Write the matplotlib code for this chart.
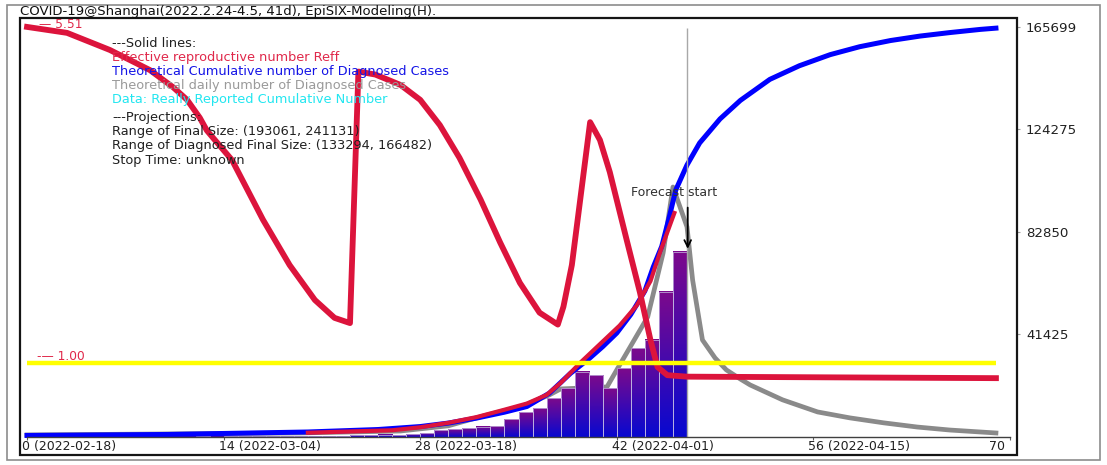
import numpy as np
import matplotlib.pyplot as plt
from matplotlib.colors import LinearSegmentedColormap
from matplotlib.patches import Rectangle
from matplotlib.transforms import offset_copy

W, H = 1107, 465

# ---- data ----
title = "COVID-19@Shanghai(2022.2.24-4.5, 41d), EpiSIX-Modeling(H)."

tick_days = [0, 14, 28, 42, 56, 70]
tick_labels = ["0 (2022-02-18)", "14 (2022-03-04)", "28 (2022-03-18)",
               "42 (2022-04-01)", "56 (2022-04-15)", "70"]
right_ticks = [41425, 82850, 124275, 165699]

# effective reproductive number Reff
reff_days = [0, 2.85, 5.9, 8.75, 10.4, 11.4, 12.3, 12.8, 13.2, 14.6, 16.8, 18.7, 20.5,
             21.9, 23.0,
             23.6, 24.8, 26.6, 28.0, 29.4, 30.8, 32.3, 33.7, 35.1, 36.5, 37.8,
             38.2, 38.8, 40.1, 40.8, 41.5, 42.7, 43.65, 44.4, 44.9, 45.6, 47.0, 69.0]
reff_vals = [5.51, 5.43, 5.20, 4.93, 4.70, 4.53, 4.29, 4.12, 4.03, 3.72, 2.92, 2.31, 1.84,
             1.60, 1.53,
             4.91, 4.87, 4.73, 4.53, 4.19, 3.75, 3.19, 2.61, 2.07, 1.67, 1.51,
             1.75, 2.31, 4.23, 3.99, 3.56, 2.65, 1.94, 1.30, 0.94, 0.83, 0.81, 0.79]

# theoretical cumulative number of diagnosed cases
cum_days = [0, 10, 20, 25, 28, 30, 32, 34, 35.6, 37.2, 38.7, 40, 41, 42, 43, 44, 44.6,
            45.2, 45.7, 46.2, 47, 47.9, 49.35, 50.8, 52.9, 55, 57.2, 59.3,
            61.5, 63.6, 65.7, 67.9, 69]
cum_vals = [600, 1000, 2000, 3000, 4200, 5600, 7600, 10000, 12300, 17700, 25700, 31500,
            36500, 42000, 49500, 59000, 68700, 77000, 88000, 99800, 109900, 118800,
            128500, 136000, 144500, 150000, 154500, 157700, 160200, 162000, 163400,
            164700, 165200]

# fitted curve over the observation window (red)
fit_days = [20, 26, 28, 30, 32, 34, 35.6, 37, 38, 39.4, 40.8, 42.2, 43.4, 44.4, 45.1, 46.1]
fit_vals = [1700, 2700, 3900, 5700, 8000, 11000, 13500, 17000, 21800, 30000, 37500,
            45000, 53000, 63000, 75000, 90500]

# theoretical daily number of diagnosed cases
daily_days = [0, 19.4, 26.6, 30, 32.5, 35.3, 37.2, 38, 39.7, 41.3, 42.0, 42.7, 44.2,
              45.3, 46.0, 47.0, 47.4, 48.1, 49.0, 49.8, 50.8, 51.5, 53.8, 56.3, 58.6,
              61.0, 63.4, 65.7, 69.0]
daily_vals = [800, 1600, 2400, 4500, 8500, 12500, 17000, 19400, 19800, 20200, 27100,
              33900, 48500, 74400, 101000, 84900, 63400, 39200, 31900, 27100, 23400,
              21000, 15000, 10100, 7700, 5700, 4000, 2800, 1600]

# reported daily numbers (bars), days 6..46
bar_days = list(range(6, 47))
bar_vals = [20, 40, 20, 40, 60, 120, 200, 150, 220, 340, 360, 320, 380, 330, 330, 380,
            300, 700, 620, 850, 700, 1150, 1600, 2800, 3100, 3500, 4200, 4400, 7100,
            10100, 11700, 15600, 19700, 26300, 24900, 19700, 27800, 35800, 39200,
            58700, 74900]

forecast_day = 47
reff_top = 5.51
value_top = 165699

legend_lines = [
    ("---Solid lines:", "#202020"),
    ("Effective reproductive number Reff", "#e0284a"),
    ("Theoretical Cumulative number of Diagnosed Cases", "#1414e6"),
    ("Theoretical daily number of Diagnosed Cases", "#9a9a9a"),
    ("Data: Really Reported Cumulative Number", "#22e6f0"),
]
proj_lines = [
    "---Projections:",
    "Range of Final Size: (193061, 241131)",
    "Range of Diagnosed Final Size: (133294, 166482)",
    "Stop Time: unknown",
]

# ---- figure ----
plt.rcParams['font.family'] = 'DejaVu Sans'
fig = plt.figure(figsize=(W / 100, H / 100), dpi=100)


def fx(x):
    return x / W


def fy(y):
    return 1 - y / H


ax = fig.add_axes([fx(20), fy(455), (1017 - 20) / W, (455 - 18) / H])
ax.set_facecolor('white')

cmap = LinearSegmentedColormap.from_list('barfade', ['#0808d0', '#7c0a8c'])
grad = np.linspace(0, 1, 64).reshape(-1, 1)
for d, v in zip(bar_days, bar_vals):
    ax.imshow(grad, extent=[d, d + 1, 0, v], origin='lower', aspect='auto',
              cmap=cmap, zorder=1.5, interpolation='bilinear')
ax.bar(bar_days, bar_vals, width=1, align='edge', facecolor='none',
       edgecolor='#c8c0e4', linewidth=0.5, zorder=1.6)

ax.plot(daily_days, daily_vals, color='#8a8a8a', lw=3.4, zorder=1.2,
        solid_joinstyle='round')
ax.plot(cum_days, cum_vals, color='#0000ff', lw=3.6, zorder=2,
        solid_joinstyle='round')
ax.plot(fit_days, fit_vals, color='#dc143c', lw=3.0, zorder=2.1,
        solid_joinstyle='round')

ax.vlines(forecast_day, 0, max(cum_vals), color='#a8a8a8', lw=1.0, zorder=2.2)
ax.annotate('', xy=(forecast_day + 0.05, bar_vals[-1]),
            xytext=(forecast_day + 0.05, 93800),
            arrowprops=dict(arrowstyle='->', color='black', lw=1.3,
                            mutation_scale=12), zorder=3)
ax.text(forecast_day - 0.9, 98600, 'Forecast start', ha='center', va='center',
        fontsize=9, color='#303030', zorder=3)

ax.set_xlim(-0.5, 70.5)
ax.set_ylim(-7300, 169300)

# Reff on a twin scale: top of plot = 5.51
ax2 = ax.twinx()
ax2.set_ylim(np.array(ax.get_ylim()) * reff_top / value_top)
ax2.plot(reff_days, reff_vals, color='#dc143c', lw=4.2, zorder=2,
         solid_joinstyle='round')
ax2.hlines(1.0, 0, reff_days[-1], color='#ffff00', lw=3.2, zorder=3)
ax2.set_yticks([])
for s in ax2.spines.values():
    s.set_visible(False)
r_tr = offset_copy(ax2.transData, fig=fig, x=0, y=2, units='dots')
ax2.text(0.85, reff_top, f'— {reff_top:.2f}', transform=r_tr, ha='left',
         va='center', fontsize=8.8, color='#e0284a')
r_tr1 = offset_copy(ax2.transData, fig=fig, x=0, y=6, units='dots')
ax2.text(0.7, 1.0, f'-— {1.0:.2f}', transform=r_tr1, ha='left',
         va='center', fontsize=8.8, color='#e0284a')

# bottom axis line at zero with short ticks
for s in ['top', 'left', 'right']:
    ax.spines[s].set_visible(False)
ax.spines['bottom'].set_position(('data', 0))
ax.spines['bottom'].set_bounds(0, 70)
ax.spines['bottom'].set_color('#404040')
ax.spines['bottom'].set_linewidth(1.0)
ax.set_xticks(tick_days)
ax.tick_params(axis='x', direction='out', length=2.5, color='#606060',
               labelbottom=False)
lbl_tr = offset_copy(ax.transData, fig=fig, x=-5, y=-10, units='dots')
for d, lab in zip(tick_days, tick_labels):
    ha = 'right' if d == tick_days[-1] else 'left'
    ax.text(d, 0, lab, transform=lbl_tr, ha=ha, va='center', fontsize=9,
            color='#202020')

# value scale on the right (set after twinx, which moves ticks left)
ax.yaxis.tick_right()
ax.set_yticks(right_ticks)
ax.set_yticklabels([str(t) for t in right_ticks])
ax.tick_params(axis='y', left=False, labelleft=False, right=True,
               labelright=True, length=2.5, color='#a0a0a0', labelsize=9.6,
               pad=4, labelcolor='#202020')

# inner box and outer frame
ax.add_patch(Rectangle((0, 0), 1, 1, transform=ax.transAxes, fill=False,
                       edgecolor='#151515', lw=1.6, clip_on=False, zorder=10))
fig.patches.append(Rectangle((fx(6.5), fy(460)), (1100 - 6.5) / W, (460 - 5) / H,
                             transform=fig.transFigure, fill=False,
                             edgecolor='#8c8c8c', lw=1.2))

fig.text(fx(20), fy(11), title, ha='left', va='center', fontsize=9.5,
         color='#101010')

for i, (txt, col) in enumerate(legend_lines):
    fig.text(fx(112), fy(43 + 14 * i), txt, ha='left', va='center',
             fontsize=9.3, color=col)
for i, txt in enumerate(proj_lines):
    fig.text(fx(112), fy(117 + 14.5 * i), txt, ha='left', va='center',
             fontsize=9.3, color='#202020')

fig.savefig('out.png', dpi=100)
